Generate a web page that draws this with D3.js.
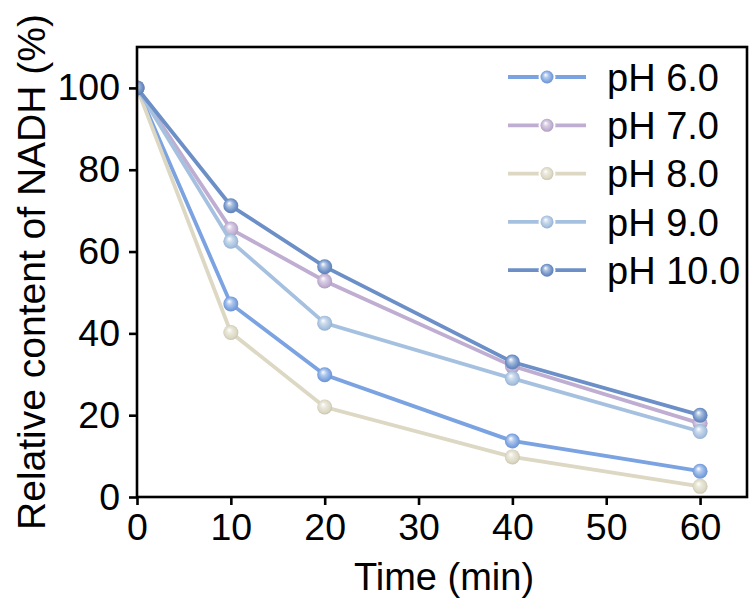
<!DOCTYPE html>
<html>
<head>
<meta charset="utf-8">
<script src="https://cdn.jsdelivr.net/npm/d3@7"></script>
<style>
  body { margin: 0; background: #fff; }
  text { font-family: Arial, "Liberation Sans", sans-serif; fill: #000; }
</style>
</head>
<body>
<svg id="chart" width="749" height="599"></svg>
<script>
// Data
var times = [0, 10, 20, 40, 60];
var seriesNames = ["pH 6.0", "pH 7.0", "pH 8.0", "pH 9.0", "pH 10.0"];
var ph6 = [100, 47.2, 29.9, 13.7, 6.3];
var ph7 = [100, 65.5, 52.8, 32.0, 18.0];
var ph8 = [100, 40.2, 22.0, 9.8, 2.6];
var ph9 = [100, 62.5, 42.5, 29.0, 16.0];
var ph10 = [100, 71.2, 56.3, 33.0, 20.0];
var colors = ["#7ba3e1", "#bfaed2", "#dcd8c3", "#a6c1e0", "#6b8fc6"];
var xTicks = [0, 10, 20, 30, 40, 50, 60];
var yTicks = [0, 20, 40, 60, 80, 100];

var values = [ph6, ph7, ph8, ph9, ph10];
var series = seriesNames.map(function(name, i) {
    return { name: name, color: colors[i], points: times.map(function(t, j) { return { x: t, y: values[i][j] }; }) };
});

var svg = d3.select("#chart");
var margin = { left: 137, right: 2, top: 47, bottom: 102 };
var width = 749 - margin.left - margin.right;
var height = 599 - margin.top - margin.bottom;

var x = d3.scaleLinear().domain([0, 65]).range([0, width]);
var y = d3.scaleLinear().domain([0, 110]).range([height, 0]);

// Gradients for the glossy markers
var defs = svg.append("defs");
series.forEach(function(s, i) {
    var g = defs.append("radialGradient")
        .attr("id", "grad" + i)
        .attr("cx", "50%").attr("cy", "50%").attr("r", "55%")
        .attr("fx", "38%").attr("fy", "32%");
    g.append("stop").attr("offset", "0%").attr("stop-color", "#ffffff");
    g.append("stop").attr("offset", "35%").attr("stop-color", d3.interpolateRgb("#ffffff", s.color)(0.6));
    g.append("stop").attr("offset", "75%").attr("stop-color", s.color);
    g.append("stop").attr("offset", "100%").attr("stop-color", d3.color(s.color).darker(0.4));
});
defs.append("clipPath").attr("id", "plotClip")
    .append("rect").attr("x", 0).attr("y", 0).attr("width", width).attr("height", height);

var plot = svg.append("g").attr("transform", "translate(" + margin.left + "," + margin.top + ")");

// Lines and markers
var line = d3.line().x(function(d) { return x(d.x); }).y(function(d) { return y(d.y); });
var dataLayer = plot.append("g").attr("clip-path", "url(#plotClip)");
series.forEach(function(s, i) {
    var g = dataLayer.append("g");
    g.append("path")
        .datum(s.points)
        .attr("d", line)
        .attr("fill", "none")
        .attr("stroke", s.color)
        .attr("stroke-width", 3.8);
    g.selectAll("circle")
        .data(s.points)
        .enter().append("circle")
        .attr("cx", function(d) { return x(d.x); })
        .attr("cy", function(d) { return y(d.y); })
        .attr("r", 7.5)
        .attr("fill", "url(#grad" + i + ")");
});

// Axes
var xAxis = plot.append("g")
    .attr("transform", "translate(0," + height + ")")
    .call(d3.axisBottom(x).tickValues(xTicks).tickSize(8).tickPadding(8));
var yAxis = plot.append("g")
    .call(d3.axisLeft(y).tickValues(yTicks).tickSize(8).tickPadding(9));
[xAxis, yAxis].forEach(function(a) {
    a.select(".domain").remove();
    a.selectAll("line").attr("stroke", "#000").attr("stroke-width", 2.6);
    a.selectAll("text").style("font-size", "37.5px").attr("fill", "#000");
});

// Frame
plot.append("rect")
    .attr("x", 0).attr("y", 0)
    .attr("width", width).attr("height", height)
    .attr("fill", "none")
    .attr("stroke", "#000")
    .attr("stroke-width", 2.6);

// Axis titles
svg.append("text")
    .attr("x", margin.left + width / 2 + 2)
    .attr("y", 590)
    .attr("text-anchor", "middle")
    .style("font-size", "38px")
    .text("Time (min)");
svg.append("text")
    .attr("transform", "translate(45," + (margin.top + height / 2) + ") rotate(-90)")
    .attr("text-anchor", "middle")
    .style("font-size", "39px")
    .text("Relative content of NADH (%)");

// Legend
var legend = svg.append("g").attr("transform", "translate(508,77)");
series.forEach(function(s, i) {
    var row = legend.append("g").attr("transform", "translate(0," + (i * 48.3) + ")");
    row.append("line")
        .attr("x1", 0).attr("x2", 78)
        .attr("stroke", s.color)
        .attr("stroke-width", 3.8);
    row.append("circle")
        .attr("cx", 39).attr("r", 8.5)
        .attr("fill", "#fff");
    row.append("circle")
        .attr("cx", 39).attr("r", 6.5)
        .attr("fill", "url(#grad" + i + ")");
    row.append("text")
        .attr("x", 99)
        .attr("y", 0)
        .attr("dy", "0.36em")
        .style("font-size", "38px")
        .text(s.name);
});
</script>
</body>
</html>
